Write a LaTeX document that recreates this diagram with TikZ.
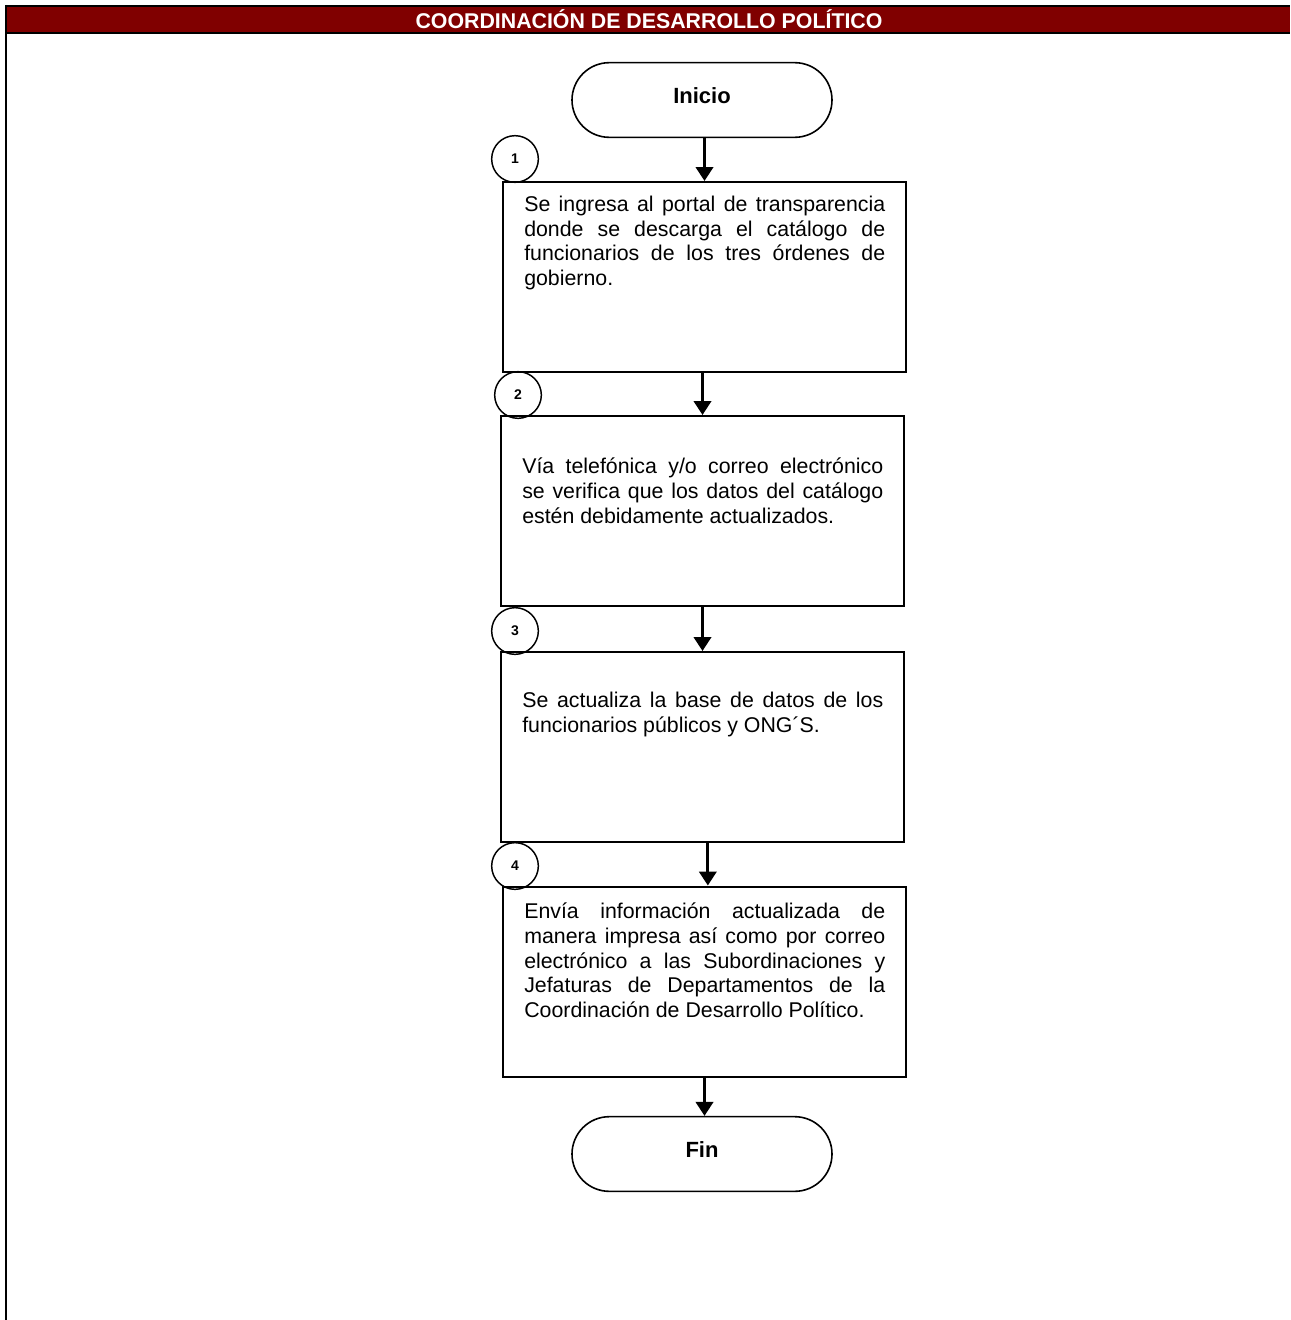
\documentclass[tikz,border=0pt]{standalone}
\usepackage{fontspec}
\setmainfont{Liberation Sans}
\usetikzlibrary{arrows.meta,shapes.misc}

\definecolor{bandred}{RGB}{128,0,0}

% justified text without word division
\hyphenpenalty=10000
\exhyphenpenalty=10000

\tikzset{
  terminal/.style={draw, line width=1.2pt, rounded rectangle,
    minimum width=195pt, minimum height=56pt, inner sep=0pt, text depth=6pt,
    font=\fontsize{16.5}{19}\selectfont\bfseries},
  stepbox/.style={draw, line width=1.5pt, rectangle, inner sep=0pt,
    minimum width=302.25pt, minimum height=142.5pt},
  steptext/.style={anchor=north west, inner sep=0pt, align=justify,
    text width=270.75pt, font=\fontsize{16}{18.4}\selectfont},
  stepnum/.style={draw, line width=1.1pt, circle, minimum size=35pt,
    inner sep=0pt, font=\fontsize{10.5}{12}\selectfont\bfseries},
  flow/.style={line width=2.2pt, -{Triangle[width=13pt,length=10.5pt]}}
}

\begin{document}
\begin{tikzpicture}[x=0.75pt,y=-0.75pt]
  \useasboundingbox (0,0) rectangle (1290,1320);

  % header band and frame
  \fill[bandred] (6,6) rectangle (1290,33);
  \draw[line width=2pt] (5,6) -- (1290,6);
  \draw[line width=2pt] (5,33) -- (1290,33);
  \draw[line width=2.2pt] (6,5) -- (6,1320);
  \node[text=white, font=\fontsize{16}{18}\selectfont\bfseries] (title) at (649,19)
    {COORDINACIÓN DE DESARROLLO POLÍTICO};

  % terminals
  \node[terminal] (start) at (702,100) {Inicio};
  \node[terminal] (end) at (702,1154) {Fin};

  % process steps
  \node[stepbox] (b1) at (704.5,277) {};
  \node[stepbox] (b2) at (702.5,511) {};
  \node[stepbox] (b3) at (702.5,747) {};
  \node[stepbox] (b4) at (704.5,981.5) {};

  \node[steptext] (t1) at (524,196)
    {Se ingresa al portal de transparencia donde se descarga el catálogo de funcionarios de los tres órdenes de gobierno.};
  \node[steptext] (t2) at (522,458)
    {Vía telefónica y/o correo electrónico se verifica que los datos del catálogo estén debidamente actualizados.};
  \node[steptext] (t3) at (522,692)
    {Se actualiza la base de datos de los funcionarios públicos y ONG´S.};
  \node[steptext] (t4) at (524,903)
    {Envía información actualizada de manera impresa así como por correo electrónico a las Subordinaciones y Jefaturas de Departamentos de la Coordinación de Desarrollo Político.};

  % step numbers
  \node[stepnum] (n1) at (515,159) {1};
  \node[stepnum] (n2) at (518,395) {2};
  \node[stepnum] (n3) at (515,631) {3};
  \node[stepnum] (n4) at (515,866) {4};

  % connectors
  \draw[flow] (start.south -| b1.north) -- (b1.north);
  \draw[flow] (b1.south -| b2.north) -- (b2.north);
  \draw[flow] (b2.south) -- (b3.north);
  \draw[flow] ([xshift=4pt]b3.south) -- ([xshift=4pt]b3.south |- b4.north);
  \draw[flow] (b4.south) -- (b4.south |- end.north);
\end{tikzpicture}
\end{document}
